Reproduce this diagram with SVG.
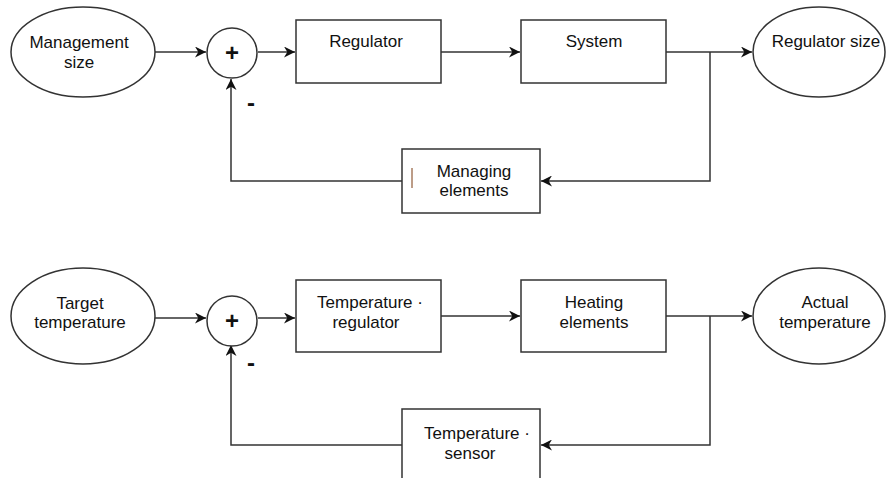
<svg xmlns="http://www.w3.org/2000/svg" width="887" height="478" viewBox="0 0 887 478">
<style>
.s{fill:#fff;stroke:#333;stroke-width:1.5}
.c{fill:none;stroke:#333;stroke-width:1.5}
text{font-family:"Liberation Sans",Arial,sans-serif;font-size:17px;fill:#111;text-anchor:middle}
.op{font-size:24px;font-weight:bold}
</style>
<defs>
<marker id="a" viewBox="0 0 10 10" refX="10" refY="5" markerWidth="11" markerHeight="11" markerUnits="userSpaceOnUse" orient="auto">
<path d="M0,0 L10,5 L0,10 L3,5 Z" fill="#111"/>
</marker>
</defs>
<rect width="887" height="478" fill="#fff"/>
<g id="connectors">
<path class="c" d="M155,52 H206" marker-end="url(#a)"/>
<path class="c" d="M258,52 H295" marker-end="url(#a)"/>
<path class="c" d="M441,52 H520" marker-end="url(#a)"/>
<path class="c" d="M666,52 H752" marker-end="url(#a)"/>
<path class="c" d="M710,52 V181 H541" marker-end="url(#a)"/>
<path class="c" d="M402,181 H231 V79" marker-end="url(#a)"/>
<path class="c" d="M155,318 H206" marker-end="url(#a)"/>
<path class="c" d="M258,318 H295" marker-end="url(#a)"/>
<path class="c" d="M441,316 H520" marker-end="url(#a)"/>
<path class="c" d="M666,316 H752" marker-end="url(#a)"/>
<path class="c" d="M710,316 V445 H541" marker-end="url(#a)"/>
<path class="c" d="M402,445 H231 V345" marker-end="url(#a)"/>
</g>
<g id="management-size">
<ellipse class="s" cx="83" cy="52" rx="72" ry="45"/>
<text x="79" y="48">Management</text>
<text x="79" y="68">size</text>
</g>
<g id="sum1">
<circle class="s" cx="232" cy="53" r="25"/>
<text class="op" x="232" y="61">+</text>
<text class="op" x="251" y="111">-</text>
</g>
<g id="regulator">
<rect class="s" x="296" y="20" width="145" height="63"/>
<text x="366" y="47">Regulator</text>
</g>
<g id="system">
<rect class="s" x="521" y="20" width="145" height="63"/>
<text x="594" y="47">System</text>
</g>
<g id="regulator-size">
<ellipse class="s" cx="819" cy="52" rx="66" ry="45"/>
<text x="826" y="47">Regulator size</text>
</g>
<g id="managing-elements">
<rect class="s" x="402" y="149" width="138" height="64"/>
<line x1="412" y1="168" x2="412" y2="188" stroke="#7a3b10" stroke-width="1"/>
<text x="474" y="177">Managing</text>
<text x="474" y="196">elements</text>
</g>
<g id="target-temperature">
<ellipse class="s" cx="83" cy="316" rx="72" ry="48"/>
<text x="80" y="309">Target</text>
<text x="80" y="328">temperature</text>
</g>
<g id="sum2">
<circle class="s" cx="232" cy="321" r="25"/>
<text class="op" x="232" y="329">+</text>
<text class="op" x="251" y="371">-</text>
</g>
<g id="temperature-regulator">
<rect class="s" x="296" y="280" width="145" height="72"/>
<text x="370" y="308">Temperature ·</text>
<text x="366" y="328">regulator</text>
</g>
<g id="heating-elements">
<rect class="s" x="521" y="280" width="145" height="72"/>
<text x="594" y="308">Heating</text>
<text x="594" y="328">elements</text>
</g>
<g id="actual-temperature">
<ellipse class="s" cx="819" cy="316" rx="66" ry="48"/>
<text x="825" y="308">Actual</text>
<text x="825" y="328">temperature</text>
</g>
<g id="temperature-sensor">
<rect class="s" x="402" y="409" width="138" height="80"/>
<text x="477" y="439">Temperature ·</text>
<text x="470" y="459">sensor</text>
</g>
</svg>
